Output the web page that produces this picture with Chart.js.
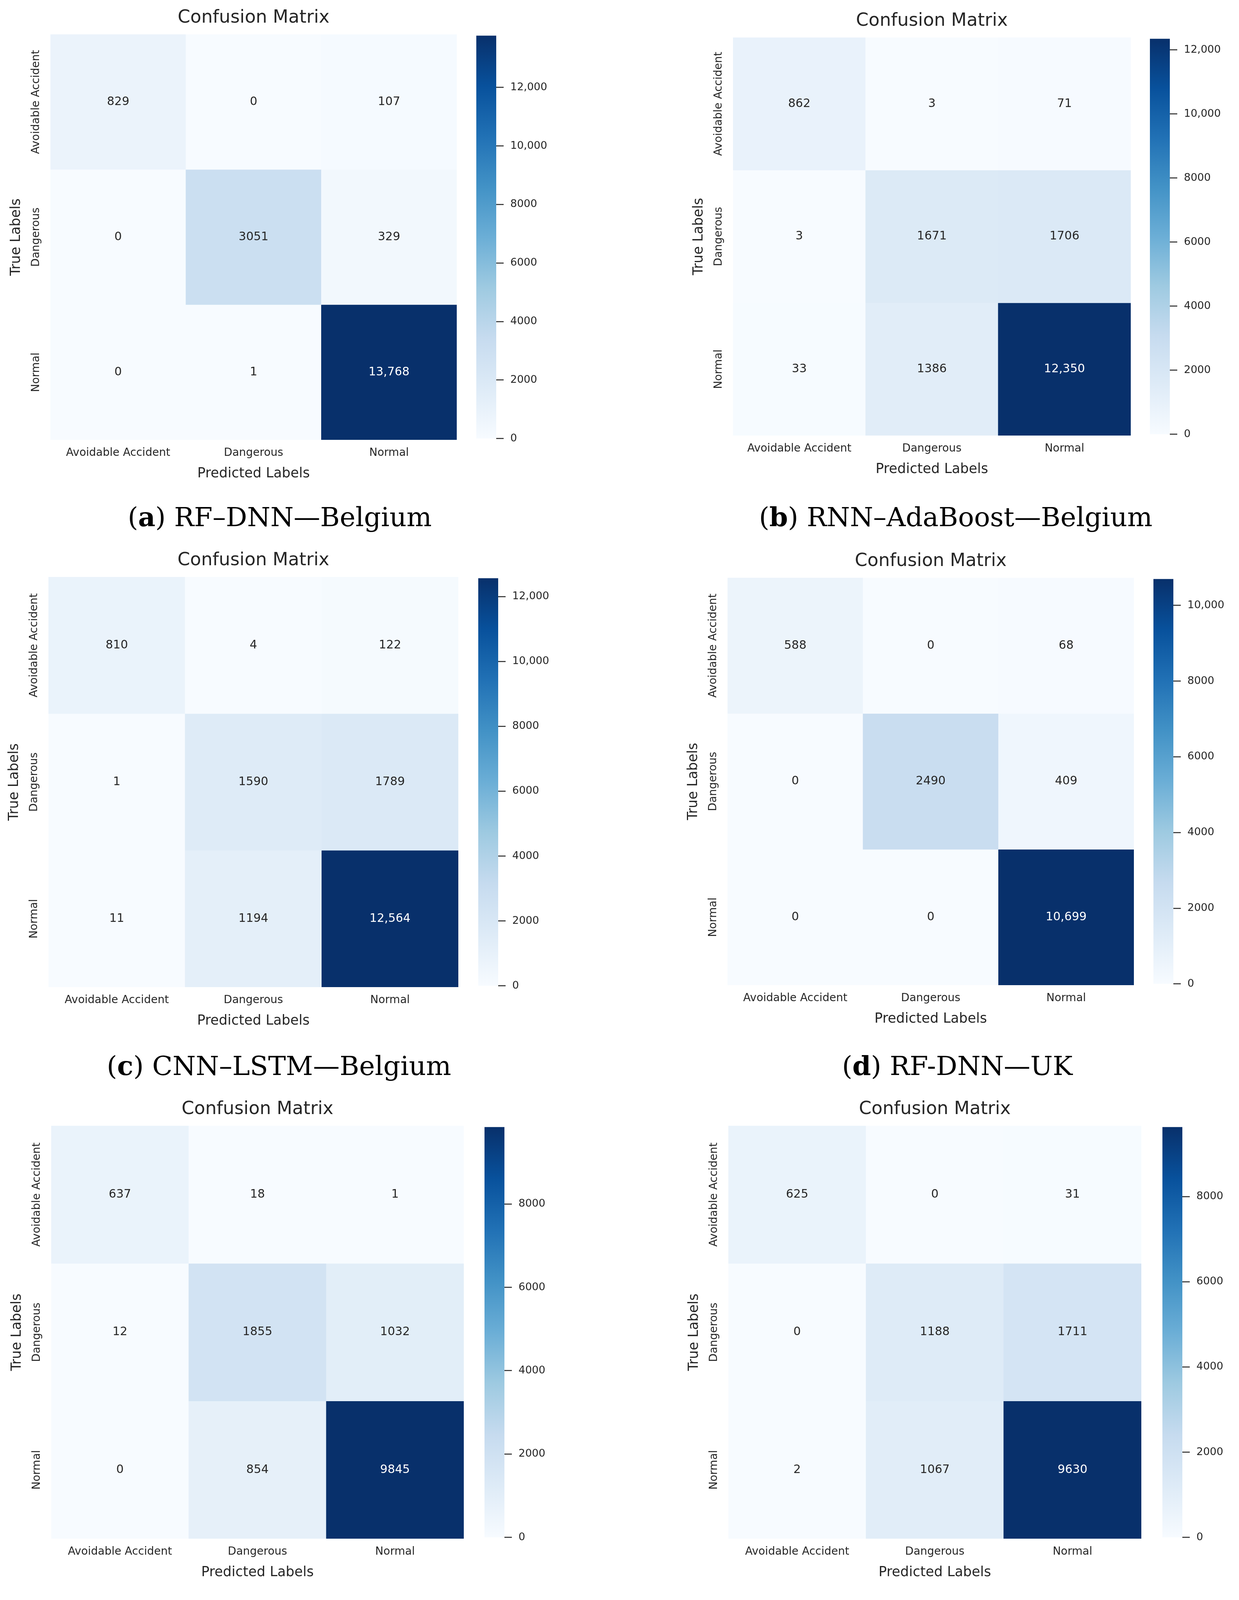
<!DOCTYPE html>
<html>
<head>
<meta charset="utf-8">
<title>Confusion matrices</title>
<script src="https://cdn.jsdelivr.net/npm/chart.js@4.4.1/dist/chart.umd.min.js"></script>
<style>
  html, body { margin: 0; padding: 0; background: #fff; }
  body { width: 3171px; height: 4204px; position: relative; overflow: hidden; }
  canvas { position: absolute; }
  .caption {
    position: absolute;
    transform: translate(-50%, -50%);
    white-space: nowrap;
    font-family: "DejaVu Serif", serif;
    font-size: 68px;
    color: #000;
  }
</style>
</head>
<body>
<script>
// class names, same order for rows (true) and columns (predicted)
const classLabels = ["Avoidable Accident", "Dangerous", "Normal"];

// confusion matrices, rows = true label, columns = predicted label
const rfDnnBelgium = [[829, 0, 107], [0, 3051, 329], [0, 1, 13768]];
const rnnAdaBoostBelgium = [[862, 3, 71], [3, 1671, 1706], [33, 1386, 12350]];
const cnnLstmBelgium = [[810, 4, 122], [1, 1590, 1789], [11, 1194, 12564]];
const rfDnnUK = [[588, 0, 68], [0, 2490, 409], [0, 0, 10699]];
const rnnAdaboostUK = [[637, 18, 1], [12, 1855, 1032], [0, 854, 9845]];
const cnnLstmUK = [[625, 0, 31], [0, 1188, 1711], [2, 1067, 9630]];

const panelLetters = ["a", "b", "c", "d", "e", "f"];
const panelNames = ["RF–DNN—Belgium", "RNN–AdaBoost—Belgium", "CNN–LSTM—Belgium",
                    "RF-DNN—UK", "RNN-Adaboost—UK", "CNN-LSTM—UK"];
const colorbarStep = 2000;

// matplotlib "Blues"
const bluesStops = ["#f7fbff", "#deebf7", "#c6dbef", "#9ecae1", "#6baed6",
                    "#4292c6", "#2171b5", "#08519c", "#08306b"];

// where each panel sits on the page: heatmap [left, top, width, height]
const panels = [
  { matrix: rfDnnBelgium,       hm: [129, 88, 1040, 1038],   cbLeft: 1219, cap: [716, 1323] },
  { matrix: rnnAdaBoostBelgium, hm: [1876, 96, 1018, 1019],  cbLeft: 2943, cap: [2446, 1323] },
  { matrix: cnnLstmBelgium,     hm: [124, 1477, 1049, 1050], cbLeft: 1224, cap: [714, 2728] },
  { matrix: rfDnnUK,            hm: [1862, 1479, 1040, 1043], cbLeft: 2952, cap: [2450, 2728] },
  { matrix: rnnAdaboostUK,      hm: [131, 2882, 1056, 1057], cbLeft: 1240, cap: [718, 4141] },
  { matrix: cnnLstmUK,          hm: [1864, 2882, 1057, 1057], cbLeft: 2975, cap: [2447, 4141] }
];

Chart.defaults.font.family = '"DejaVu Sans", sans-serif';
Chart.defaults.color = "#262626";

function hexToRgb(h) {
  return [1, 3, 5].map(i => parseInt(h.substr(i, 2), 16));
}

function blues(t) {
  t = Math.max(0, Math.min(1, t));
  const pos = t * (bluesStops.length - 1);
  const i = Math.min(Math.floor(pos), bluesStops.length - 2);
  const f = pos - i;
  const a = hexToRgb(bluesStops[i]);
  const b = hexToRgb(bluesStops[i + 1]);
  return a.map((c, k) => Math.round(c + (b[k] - c) * f));
}

function luminance(rgb) {
  const lin = rgb.map(c => {
    c /= 255;
    return c <= 0.03928 ? c / 12.92 : Math.pow((c + 0.055) / 1.055, 2.4);
  });
  return 0.2126 * lin[0] + 0.7152 * lin[1] + 0.0722 * lin[2];
}

function fmt(v) {
  return v >= 10000 ? v.toLocaleString("en-US") : String(v);
}

// numbers in the cells + rotated row labels
const cellText = {
  id: "cellText",
  afterDatasetsDraw(chart) {
    const ctx = chart.ctx;
    ctx.save();
    ctx.textAlign = "center";
    ctx.textBaseline = "middle";
    ctx.font = '30px "DejaVu Sans"';
    chart.data.datasets.forEach((ds, i) => {
      chart.getDatasetMeta(i).data.forEach((bar, j) => {
        ctx.fillStyle = ds.textColors[j];
        ctx.fillText(fmt(ds.counts[j]), bar.x, (bar.y + bar.base) / 2);
      });
    });
    const ys = chart.scales.y;
    ctx.font = '28px "DejaVu Sans"';
    ctx.fillStyle = "#262626";
    classLabels.forEach((lab, i) => {
      ctx.save();
      ctx.translate(chart.chartArea.left - 36, ys.getPixelForValue(i + 0.5));
      ctx.rotate(-Math.PI / 2);
      ctx.fillText(lab, 0, 0);
      ctx.restore();
    });
    ctx.restore();
  }
};

function addCanvas(left, top, w, h) {
  const c = document.createElement("canvas");
  c.width = w;
  c.height = h;
  c.style.left = left + "px";
  c.style.top = top + "px";
  c.style.width = w + "px";
  c.style.height = h + "px";
  document.body.appendChild(c);
  return c;
}

function makeHeatmap(p) {
  const [l, t, w, h] = p.hm;
  const vmax = Math.max(...p.matrix.flat());
  const canvas = addCanvas(l - 140, t - 110, 140 + w + 10, 110 + h + 130);

  new Chart(canvas, {
    type: "bar",
    data: {
      labels: classLabels,
      datasets: classLabels.map((row, i) => {
        const cols = p.matrix[i].map(v => blues(v / vmax));
        return {
          label: row,
          data: p.matrix[i].map(() => 1),
          counts: p.matrix[i],
          backgroundColor: cols.map(c => `rgb(${c.join(",")})`),
          textColors: cols.map(c => luminance(c) > 0.408 ? "#262626" : "#ffffff"),
          borderWidth: 0,
          barPercentage: 1,
          categoryPercentage: 1
        };
      })
    },
    options: {
      responsive: false,
      devicePixelRatio: 1,
      animation: false,
      layout: { padding: { left: 0, right: 10, top: 0, bottom: 0 } },
      plugins: {
        legend: { display: false },
        tooltip: { enabled: false },
        title: {
          display: true,
          text: "Confusion Matrix",
          fullSize: false,
          font: { size: 46, weight: "normal" },
          color: "#262626",
          padding: { top: 40, bottom: 14.8 }
        }
      },
      scales: {
        x: {
          stacked: true,
          ticks: { font: { size: 28 }, padding: 17, maxRotation: 0, autoSkip: false },
          grid: { display: false, drawTicks: false },
          border: { display: false },
          title: { display: true, text: "Predicted Labels", font: { size: 35 }, padding: { top: 0, bottom: 22 } },
          afterFit: s => { s.height = 130; }
        },
        y: {
          stacked: true,
          reverse: true,
          min: 0,
          max: classLabels.length,
          ticks: { display: false },
          grid: { display: false, drawTicks: false },
          border: { display: false },
          title: { display: true, text: "True Labels", font: { size: 35 }, padding: { top: 32, bottom: 0 } },
          afterFit: s => { s.width = 140; }
        }
      }
    },
    plugins: [cellText]
  });
}

function colorbarFill(c) {
  const area = c.chart.chartArea;
  if (!area) return bluesStops[4];
  const g = c.chart.ctx.createLinearGradient(0, area.bottom, 0, area.top);
  bluesStops.forEach((s, i) => g.addColorStop(i / (bluesStops.length - 1), s));
  return g;
}

function makeColorbar(p) {
  const [, t, , h] = p.hm;
  const vmax = Math.max(...p.matrix.flat());
  const cbWidth = 51;
  const canvas = addCanvas(p.cbLeft, t - 30, cbWidth + 170, h + 60);

  new Chart(canvas, {
    type: "bar",
    data: {
      labels: [""],
      datasets: [{
        data: [vmax],
        backgroundColor: colorbarFill,
        borderWidth: 0,
        barPercentage: 1,
        categoryPercentage: 1
      }]
    },
    options: {
      responsive: false,
      devicePixelRatio: 1,
      animation: false,
      layout: { padding: { top: 30, bottom: 30, left: 0, right: 0 } },
      plugins: { legend: { display: false }, tooltip: { enabled: false } },
      scales: {
        x: { display: false },
        y: {
          position: "right",
          min: 0,
          max: vmax,
          afterBuildTicks: s => {
            const ticks = [];
            for (let v = 0; v <= vmax; v += colorbarStep) ticks.push({ value: v });
            s.ticks = ticks;
          },
          ticks: {
            padding: 17,
            font: { size: 27 },
            color: "#262626",
            callback: v => fmt(v)
          },
          grid: { drawOnChartArea: false, drawTicks: true, tickLength: 19, tickWidth: 2.5, tickColor: "#262626" },
          border: { display: false },
          afterFit: s => { s.width = 170; }
        }
      }
    }
  });
}

panels.forEach((p, i) => {
  makeHeatmap(p);
  makeColorbar(p);
  const cap = document.createElement("div");
  cap.className = "caption";
  cap.style.left = p.cap[0] + "px";
  cap.style.top = p.cap[1] + "px";
  cap.innerHTML = `(<b>${panelLetters[i]}</b>) ${panelNames[i]}`;
  document.body.appendChild(cap);
});
</script>
</body>
</html>
